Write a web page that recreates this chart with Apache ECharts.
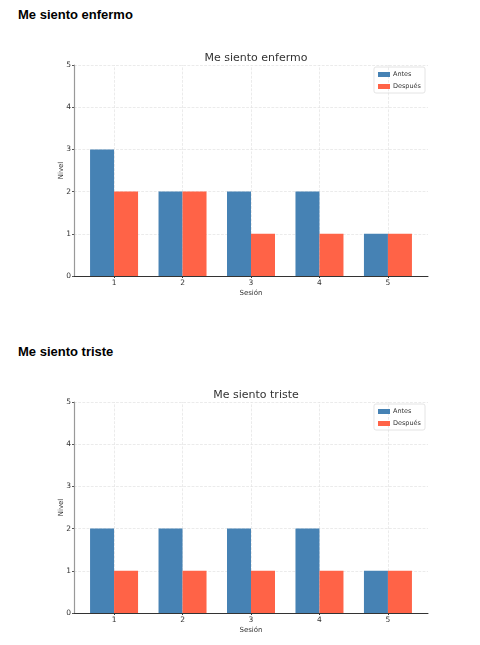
<!DOCTYPE html>
<html>
<head>
<meta charset="utf-8">
<script src="https://cdn.jsdelivr.net/npm/echarts@6/dist/echarts.min.js"></script>
<style>
  body { margin: 0; background: #fff; }
  h3 {
    position: absolute; left: 18px; margin: 0;
    font-family: "Liberation Sans", Arial, sans-serif;
    font-size: 13px; font-weight: bold; color: #000;
  }
  .chart { position: absolute; left: 0; width: 480px; height: 280px; }
</style>
</head>
<body>
<h3 style="top:7px">Me siento enfermo</h3>
<div id="c1" class="chart" style="top:30px"></div>
<h3 style="top:344px">Me siento triste</h3>
<div id="c2" class="chart" style="top:367px"></div>
<script>
const sessions = [1, 2, 3, 4, 5]
const levelTicks = [0, 1, 2, 3, 4, 5]

const enfermoAntes = [3, 2, 2, 2, 1]
const enfermoDespues = [2, 2, 1, 1, 1]
const tristeAntes = [2, 2, 2, 2, 1]
const tristeDespues = [1, 1, 1, 1, 1]

const font = 'DejaVu Sans'

function buildOption(title, antes, despues) {
  return {
    animation: false,
    textStyle: { fontFamily: font },
    title: {
      text: title, left: 251, top: 18, textAlign: 'center',
      textStyle: { fontFamily: font, fontSize: 11, fontWeight: 'normal', color: '#333' }
    },
    legend: {
      data: ['Antes', 'Después'],
      orient: 'vertical', right: 55, top: 37,
      itemWidth: 12, itemHeight: 5, itemGap: 5,
      icon: 'rect',
      padding: [4, 4, 3, 4],
      borderColor: '#ddd', borderWidth: 0.8, borderRadius: 2,
      textStyle: { fontFamily: font, fontSize: 6.5, color: '#333', padding: [0, 0, 0, -2] }
    },
    grid: { left: 74, top: 35, width: 354, height: 211 },
    xAxis: {
      type: 'value', min: 0.415, max: 5.585,
      name: 'Sesión', nameLocation: 'middle', nameGap: 14, nameMoveOverlap: false,
      nameTextStyle: { fontFamily: font, fontSize: 7, color: '#333' },
      axisLine: { lineStyle: { color: '#333', width: 1 } },
      axisTick: { show: true, customValues: sessions, length: 2, lineStyle: { color: '#333' } },
      axisLabel: { customValues: sessions, fontFamily: font, fontSize: 7.5, color: '#333', margin: 3 },
      splitLine: { show: false }
    },
    yAxis: {
      type: 'value', min: 0, max: 5, interval: 1,
      name: 'Nivel', nameLocation: 'middle', nameGap: 9, nameMoveOverlap: false,
      nameTextStyle: { fontFamily: font, fontSize: 7, color: '#333' },
      axisLine: { show: true, lineStyle: { color: '#999', width: 1.2 } },
      axisTick: { show: true, length: 2, lineStyle: { color: '#555' } },
      axisLabel: { fontFamily: font, fontSize: 7.5, color: '#333', margin: 3,
        customValues: levelTicks },
      splitLine: { show: true, lineStyle: { color: '#e2e2e2', type: 'dashed', width: 0.7 } }
    },
    series: [
      {
        type: 'line', data: [], z: 1, silent: true,
        markLine: {
          z: 1, silent: true, symbol: 'none', label: { show: false },
          lineStyle: { color: '#e2e2e2', type: 'dashed', width: 0.7 },
          data: sessions.map(s => ({ xAxis: s }))
        }
      },
      {
        name: 'Antes', type: 'bar', z: 3, barWidth: 24, barGap: '0%',
        itemStyle: { color: '#4682B4' },
        data: sessions.map((s, i) => [s, antes[i]])
      },
      {
        name: 'Después', type: 'bar', z: 3, barWidth: 24, barGap: '0%',
        itemStyle: { color: '#FF6347' },
        data: sessions.map((s, i) => [s, despues[i]])
      }
    ]
  }
}

const chart1 = echarts.init(document.getElementById('c1'))
chart1.setOption(buildOption('Me siento enfermo', enfermoAntes, enfermoDespues))
const chart2 = echarts.init(document.getElementById('c2'))
chart2.setOption(buildOption('Me siento triste', tristeAntes, tristeDespues))
</script>
</body>
</html>
